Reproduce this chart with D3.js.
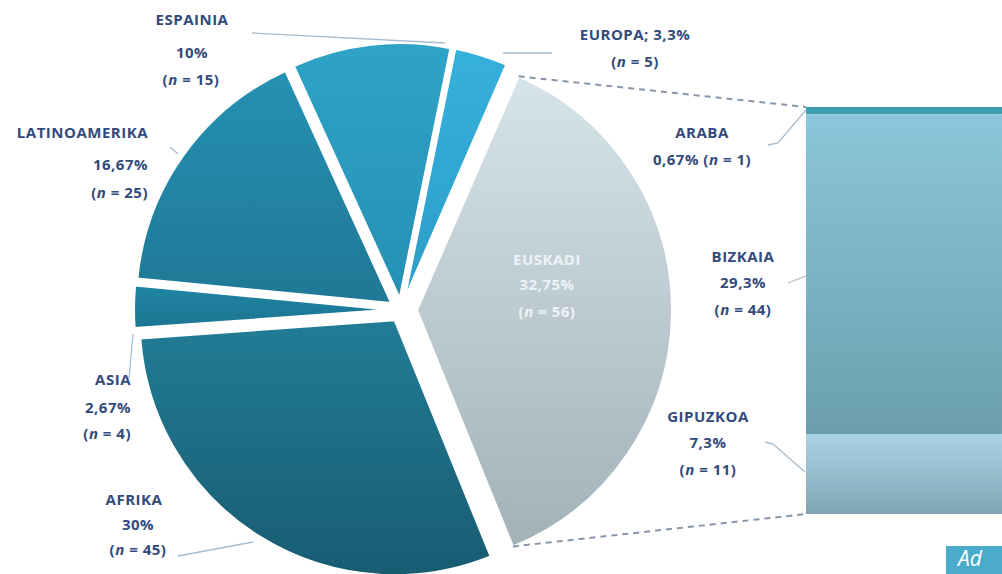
<!DOCTYPE html>
<html>
<head>
<meta charset="utf-8">
<script src="https://cdn.jsdelivr.net/npm/d3@7"></script>
<style>
  html, body { margin: 0; padding: 0; background: #fff; }
  svg { display: block; font-family: "Open Sans", Lato, sans-serif; font-weight: bold; }
</style>
</head>
<body>
<div id="chart"></div>
<script>
// pie slices, clockwise from the Euskadi slice
const regions = ["EUSKADI", "AFRIKA", "ASIA", "LATINOAMERIKA", "ESPAINIA", "EUROPA"];
const counts  = [56, 45, 4, 25, 15, 5];
const shares  = ["32,75%", "30%", "2,67%", "16,67%", "10%", "3,3%"];

// Euskadi broken down in the bar
const provinces = ["ARABA", "BIZKAIA", "GIPUZKOA"];
const provCounts = [1, 44, 11];
const provShares = ["0,67%", "29,3%", "7,3%"];

const W = 1002, H = 574;
const cx = 401, cy = 310, R = 255;

const svg = d3.select("#chart").append("svg")
    .attr("width", W).attr("height", H);
const defs = svg.append("defs");

const fills = {
  EUSKADI:       ["#d6e4ea", "#a3b1b8"],
  AFRIKA:        ["#227c96", "#185c72"],
  ASIA:          ["#1f84a3", "#1b7591"],
  LATINOAMERIKA: ["#2591b3", "#1f7895"],
  ESPAINIA:      ["#2ea3c8", "#2590b3"],
  EUROPA:        ["#36b0dc", "#2c9ec8"]
};
regions.forEach(r => {
  const g = defs.append("linearGradient").attr("id", "g-" + r)
      .attr("x1", 0).attr("y1", 0).attr("x2", 0).attr("y2", 1);
  g.append("stop").attr("offset", "0%").attr("stop-color", fills[r][0]);
  g.append("stop").attr("offset", "100%").attr("stop-color", fills[r][1]);
});

const a0 = 23.5 * Math.PI / 180;
const pie = d3.pie().sort(null).value(d => d.n)
    .startAngle(a0).endAngle(a0 + 2 * Math.PI);
const arcs = pie(regions.map((r, i) => ({ name: r, n: counts[i] })));
const arc = d3.arc().innerRadius(0).outerRadius(R);

const explode = d => d.data.name === "EUSKADI" ? 16 : 12;
const offset = d => {
  const m = (d.startAngle + d.endAngle) / 2;
  return [explode(d) * Math.sin(m), -explode(d) * Math.cos(m)];
};

svg.append("g").attr("transform", `translate(${cx},${cy})`)
  .selectAll("path").data(arcs).join("path")
    .attr("transform", d => `translate(${offset(d)})`)
    .attr("d", arc)
    .attr("fill", d => `url(#g-${d.data.name})`)
    .attr("stroke", "#fff").attr("stroke-width", 2);

// bar of Euskadi
const barX = 806, barW = 230;
const y = d3.scaleLinear().domain([0, d3.sum(provCounts)]).range([107, 514]);
const stack = d3.stack().keys(provinces)([Object.fromEntries(provinces.map((p, i) => [p, provCounts[i]]))]);
const barFills = {
  ARABA:    ["#3c9fae", "#3c9fae"],
  BIZKAIA:  ["#8cc6da", "#6b9fae"],
  GIPUZKOA: ["#abd3e3", "#7ea6b5"]
};
provinces.forEach(p => {
  const g = defs.append("linearGradient").attr("id", "b-" + p)
      .attr("x1", 0).attr("y1", 0).attr("x2", 0).attr("y2", 1);
  g.append("stop").attr("offset", "0%").attr("stop-color", barFills[p][0]);
  g.append("stop").attr("offset", "100%").attr("stop-color", barFills[p][1]);
});
svg.append("g").selectAll("rect").data(stack).join("rect")
    .attr("x", barX).attr("width", barW)
    .attr("y", s => y(s[0][0]))
    .attr("height", s => y(s[0][1]) - y(s[0][0]))
    .attr("fill", s => `url(#b-${s.key})`);

// dashed connectors from the Euskadi slice to the bar
const eus = arcs[0];
const [ox, oy] = offset(eus);
const corner = a => [cx + ox + R * Math.sin(a), cy + oy - R * Math.cos(a)];
const conn = svg.append("g").attr("stroke", "#8797ab").attr("stroke-width", 2)
    .attr("stroke-dasharray", "6,5").attr("fill", "none");
conn.append("line").datum([corner(eus.startAngle), [barX, y(0)]])
    .attr("x1", d => d[0][0]).attr("y1", d => d[0][1])
    .attr("x2", d => d[1][0]).attr("y2", d => d[1][1]);
conn.append("line").datum([corner(eus.endAngle), [barX, y(d3.sum(provCounts))]])
    .attr("x1", d => d[0][0]).attr("y1", d => d[0][1])
    .attr("x2", d => d[1][0]).attr("y2", d => d[1][1]);

// leader lines
const leaders = [
  [[252, 33], [445, 43]],
  [[503, 53], [552, 53]],
  [[170, 147], [178, 154]],
  [[133, 334], [129, 379]],
  [[178, 556], [253, 542]],
  [[768, 145], [778, 143], [806, 110]],
  [[788, 283], [806, 276]],
  [[765, 442], [773, 444], [805, 472]]
];
svg.append("g").selectAll("path").data(leaders).join("path")
    .attr("d", d3.line())
    .attr("fill", "none").attr("stroke", "#a7bccd").attr("stroke-width", 1.3);

// labels
const nText = (sel, n) => {
  sel.append("tspan").text("(");
  sel.append("tspan").attr("font-style", "italic").text("n");
  sel.append("tspan").text(" = " + n + ")");
};
const labels = [
  { lines: ["ESPAINIA", shares[4], counts[4]], x: [192, 192, 191], y: [25, 58, 85], anchor: "middle" },
  { lines: ["LATINOAMERIKA", shares[3], counts[3]], x: [148, 148, 148], y: [138, 170, 198], anchor: "end" },
  { lines: ["ASIA", shares[2], counts[2]], x: [131, 131, 131], y: [385, 413, 439], anchor: "end" },
  { lines: ["AFRIKA", shares[1], counts[1]], x: [134, 138, 138], y: [505, 530, 555], anchor: "middle" },
  { lines: ["EUROPA; " + shares[5], counts[5]], x: [635, 635], y: [40, 67], anchor: "middle" },
  { lines: ["ARABA", provShares[0] + " ", provCounts[0]], x: [702, 702], y: [138, 165], anchor: "middle", inline: true },
  { lines: ["BIZKAIA", provShares[1], provCounts[1]], x: [743, 743, 743], y: [262, 288, 315], anchor: "middle" },
  { lines: ["GIPUZKOA", provShares[2], provCounts[2]], x: [708, 708, 708], y: [422, 448, 475], anchor: "middle" },
  { lines: [regions[0], shares[0], counts[0]], x: [547, 547, 547], y: [265, 290, 317], anchor: "middle", color: "#eef3f6" }
];
const lab = svg.append("g").attr("font-size", 15).attr("letter-spacing", 0.5);
labels.forEach(L => {
  const color = L.color || "#334a7c";
  if (L.inline) {
    lab.append("text").attr("x", L.x[0]).attr("y", L.y[0]).attr("text-anchor", L.anchor)
        .attr("fill", color).text(L.lines[0]);
    const t = lab.append("text").attr("x", L.x[1]).attr("y", L.y[1]).attr("text-anchor", L.anchor)
        .attr("fill", color);
    t.append("tspan").text(L.lines[1]);
    nText(t, L.lines[2]);
    return;
  }
  L.lines.forEach((s, i) => {
    const t = lab.append("text").attr("x", L.x[i]).attr("y", L.y[i])
        .attr("text-anchor", L.anchor).attr("fill", color);
    if (i === L.lines.length - 1 && typeof s === "number") nText(t, s);
    else t.text(s);
  });
});

// corner badge
svg.append("rect").attr("x", 946).attr("y", 546).attr("width", 60).attr("height", 30)
    .attr("fill", "#4aacc8");
svg.append("text").attr("x", 958).attr("y", 566).attr("fill", "#fff")
    .attr("font-size", 21).attr("font-style", "italic").attr("font-weight", "normal")
    .text("Ad");
</script>
</body>
</html>
